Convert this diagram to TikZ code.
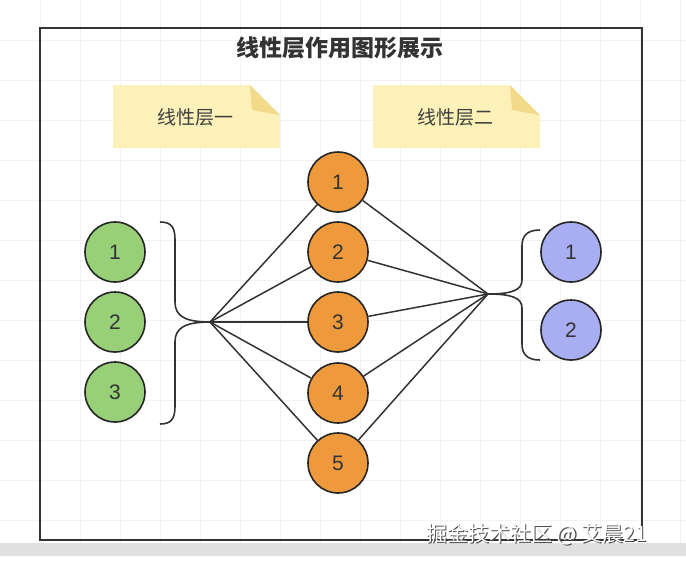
\documentclass[tikz,border=0pt]{standalone}
\usepackage{fontspec}
\setmainfont{Liberation Sans}
\newfontfamily\cjk{Noto Sans CJK SC}
\definecolor{gfill}{HTML}{97D077}
\definecolor{ofill}{HTML}{EE9A3C}
\definecolor{bfill}{HTML}{A9AEF2}
\definecolor{nfill}{HTML}{FCF1B8}
\definecolor{nfold}{HTML}{F1DA8A}
\begin{document}
\begin{tikzpicture}[x=1pt,y=-1pt,
 circ/.style={circle,draw=black!85,line width=1.6pt,minimum size=60pt,inner sep=0pt,font=\fontsize{21}{21}\selectfont,text=black!80},
 gcirc/.style={circ,fill=gfill},
 ocirc/.style={circ,fill=ofill},
 bcirc/.style={circ,fill=bfill},
 link/.style={draw=black!80,line width=1.5pt},
 bracestyle/.style={draw=black!80,line width=1.6pt},
 note/.style={fill=nfill},
 lbl/.style={font=\cjk\fontsize{19}{19}\selectfont,text=black!75}]
\useasboundingbox (0,0) rectangle (686,566);
\fill[white] (0,0) rectangle (686,566);
\foreach \x in {40,80,...,680} \draw[black!5] (\x,0)--(\x,545);
\foreach \y in {40,80,...,540} \draw[black!5] (0,\y)--(686,\y);
\fill[black!12] (0,543) rectangle (686,556);
\draw[black!80,line width=1.8pt] (40,28) rectangle (642,540);
\node[font=\cjk\bfseries\fontsize{23}{23}\selectfont,text=black!80] (title) at (340,48) {线性层作用图形展示};
\fill[note] (113,85) -- (250,85) -- (280,115) -- (280,148) -- (113,148) -- cycle;
\fill[nfold] (250,85) -- (280,115) -- (252,110) -- cycle;
\node[lbl] (n1) at (195,117) {线性层一};
\fill[note] (373,85) -- (510,85) -- (540,115) -- (540,148) -- (373,148) -- cycle;
\fill[nfold] (510,85) -- (540,115) -- (512,110) -- cycle;
\node[lbl] (n2) at (455,117) {线性层二};
\node[gcirc] (g1) at (115,252) {1};
\node[gcirc] (g2) at (115,322) {2};
\node[gcirc] (g3) at (115,392) {3};
\foreach \i/\y in {1/182,2/252,3/322,4/393,5/463} \node[ocirc] (o\i) at (338,\y) {\i};
\node[bcirc] (b1) at (571,252) {1};
\node[bcirc] (b2) at (571,330) {2};
\coordinate (L) at (210,322);
\coordinate (R) at (488,294);
% left brace
\draw[bracestyle] (160,222) .. controls (172,222) and (175,228) .. (175,240) -- (175,302)
  .. controls (175,316) and (185,322) .. (L)
  .. controls (185,322) and (175,328) .. (175,342) -- (175,406)
  .. controls (175,418) and (172,424) .. (160,424);
% right brace
\draw[bracestyle] (540,230) .. controls (527,230) and (522,236) .. (522,246) -- (522,280)
  .. controls (522,290) and (512,294) .. (R)
  .. controls (512,294) and (522,298) .. (522,308) -- (522,344)
  .. controls (522,354) and (527,360) .. (540,360);
\foreach \i in {1,...,5} { \draw[link] (L) -- (o\i); \draw[link] (o\i) -- (R); }
\node[font=\cjk\fontsize{21}{21}\selectfont,text=black!70] at (538,535.5) {掘金技术社区 @ 艾晨21};
\node[font=\cjk\fontsize{21}{21}\selectfont,text=white] (wm) at (536.5,534) {掘金技术社区 @ 艾晨21};
\end{tikzpicture}
\end{document}
